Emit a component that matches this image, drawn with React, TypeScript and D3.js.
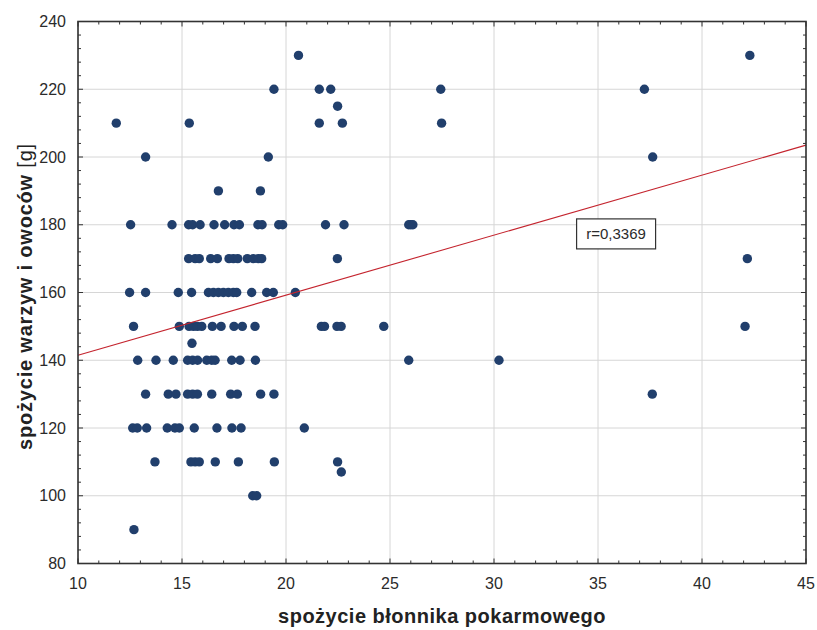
import React from 'react';
import * as d3 from 'd3';

// vegetable & fruit intake levels (rows of points) and fibre intake per point
const vegRows = [230, 220, 215, 210, 200, 190, 180, 170, 160, 150, 145, 140, 130, 120, 110, 107, 100, 90];
const fiberRows: number[][] = [
  [20.6, 42.3],
  [19.42, 21.6, 22.15, 27.44, 37.23],
  [22.48],
  [11.84, 15.35, 21.6, 22.71, 27.48],
  [13.25, 19.15, 37.63],
  [16.75, 18.77],
  [12.53, 14.52, 15.32, 15.51, 15.87, 16.54, 17.05, 17.5, 17.76, 18.65, 18.85, 19.65, 19.84, 21.9, 22.79, 25.9, 26.0, 26.1],
  [15.32, 15.63, 15.83, 16.38, 16.7, 17.26, 17.47, 17.68, 18.14, 18.43, 18.67, 18.83, 22.47, 42.18],
  [12.48, 13.25, 14.82, 15.46, 16.27, 16.51, 16.75, 16.99, 17.23, 17.47, 17.63, 18.35, 19.07, 19.39, 20.45],
  [12.67, 14.87, 15.34, 15.55, 15.74, 15.95, 16.46, 16.88, 17.5, 17.9, 18.51, 21.7, 21.85, 22.45, 22.65, 24.7, 42.07],
  [15.48],
  [12.87, 13.75, 14.58, 15.27, 15.51, 15.75, 16.19, 16.43, 16.59, 17.39, 17.79, 18.53, 25.9, 30.24],
  [13.25, 14.34, 14.71, 15.27, 15.51, 15.74, 16.43, 17.34, 17.66, 18.78, 19.42, 37.61],
  [12.63, 12.85, 13.3, 14.29, 14.66, 14.87, 15.59, 16.68, 17.4, 17.84, 20.88],
  [13.7, 15.43, 15.63, 15.83, 16.6, 17.71, 19.44, 22.48],
  [22.66],
  [18.4, 18.59],
  [12.69],
];

const xTicks = [10, 15, 20, 25, 30, 35, 40, 45];
const yTicks = [80, 100, 120, 140, 160, 180, 200, 220, 240];
const xMinor = d3.range(10, 46, 1);
const yMinor = d3.range(80, 241, 4);

const regFiber = [10, 45];
const regVeg = [141.5, 203.5];

const rLabel = 'r=0,3369';
const rLabelAt = [35.87, 177.3];
const xTitle = 'spożycie błonnika pokarmowego';
const yTitle = 'spożycie warzyw i owoców ';
const yUnit = '[g]';

const W = 817;
const H = 630;
const M = { left: 78, right: 11, top: 21.5, bottom: 66.5 };
const FONT = '"Liberation Sans", Arial, sans-serif';

export default function App() {
  const x = d3.scaleLinear().domain([10, 45]).range([M.left, W - M.right]);
  const y = d3.scaleLinear().domain([80, 240]).range([H - M.bottom, M.top]);
  const x0 = M.left, x1 = W - M.right, y0 = M.top, y1 = H - M.bottom;

  const points: [number, number][] = [];
  vegRows.forEach((v, i) => fiberRows[i].forEach((f) => points.push([f, v])));

  const line = d3.line<number>().x((d, i) => x(regFiber[i])).y((d) => y(d));

  const lx = x(rLabelAt[0]);
  const ly = y(rLabelAt[1]);
  const frameColor = '#333';

  return (
    <svg width={W} height={H} style={{ position: 'absolute', left: 0, top: 0, background: '#fff' }}>
      <rect x={0} y={0} width={W} height={H} fill="#fff" />
      {/* grid */}
      {xTicks.map((t) => (
        <line key={'gx' + t} x1={x(t)} x2={x(t)} y1={y0} y2={y1} stroke="#d6d6d6" strokeWidth={1} />
      ))}
      {yTicks.map((t) => (
        <line key={'gy' + t} x1={x0} x2={x1} y1={y(t)} y2={y(t)} stroke="#d6d6d6" strokeWidth={1} />
      ))}
      {/* points */}
      {points.map((p, i) => (
        <circle key={'p' + i} cx={x(p[0])} cy={y(p[1])} r={4.7} fill="#213f6c" />
      ))}
      {/* regression line */}
      <path d={line(regVeg) || ''} fill="none" stroke="#c4242e" strokeWidth={1.1} />
      {/* ticks */}
      {xMinor.map((t) => {
        const len = t % 5 === 0 ? 5 : 3;
        return (
          <g key={'tx' + t}>
            <line x1={x(t)} x2={x(t)} y1={y1} y2={y1 - len} stroke={frameColor} strokeWidth={1} />
            <line x1={x(t)} x2={x(t)} y1={y0} y2={y0 + len} stroke={frameColor} strokeWidth={1} />
          </g>
        );
      })}
      {yMinor.map((t) => {
        const len = t % 20 === 0 ? 5 : 3;
        return (
          <g key={'ty' + t}>
            <line x1={x0} x2={x0 + len} y1={y(t)} y2={y(t)} stroke={frameColor} strokeWidth={1} />
            <line x1={x1} x2={x1 - len} y1={y(t)} y2={y(t)} stroke={frameColor} strokeWidth={1} />
          </g>
        );
      })}
      {/* frame */}
      <rect x={x0} y={y0} width={x1 - x0} height={y1 - y0} fill="none" stroke={frameColor} strokeWidth={1.6} />
      {/* tick labels */}
      {xTicks.map((t) => (
        <text key={'lx' + t} x={x(t)} y={589} textAnchor="middle" fontFamily={FONT} fontSize={16} fill="#2b2b2b">
          {t}
        </text>
      ))}
      {yTicks.map((t) => (
        <text key={'ly' + t} x={66} y={y(t)} dy="0.35em" textAnchor="end" fontFamily={FONT} fontSize={16} fill="#2b2b2b">
          {t}
        </text>
      ))}
      {/* r label */}
      <rect x={lx - 39.5} y={ly - 15} width={79} height={30} fill="#fff" stroke="#333" strokeWidth={1.2} />
      <text x={lx} y={ly} dy="0.35em" textAnchor="middle" fontFamily={FONT} fontSize={15} fill="#2b2b2b">
        {rLabel}
      </text>
      {/* axis titles */}
      <text x={(x0 + x1) / 2} y={623} textAnchor="middle" fontFamily={FONT} fontSize={20} fontWeight="bold" fill="#222" letterSpacing={0.5}>
        {xTitle}
      </text>
      <text
        transform={`translate(32, ${(y0 + y1) / 2 + 4}) rotate(-90)`}
        textAnchor="middle"
        fontFamily={FONT}
        fontSize={20}
        fill="#222"
        letterSpacing={0.8}
      >
        <tspan fontWeight="bold">{yTitle}</tspan>
        <tspan fontWeight="normal">{yUnit}</tspan>
      </text>
    </svg>
  );
}
